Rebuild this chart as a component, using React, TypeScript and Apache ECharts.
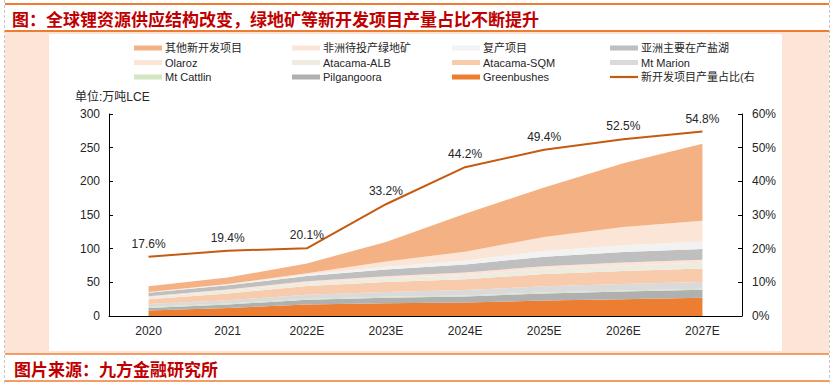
import React, { useEffect, useRef } from "react";
import * as echarts from "echarts";

const years = ["2020", "2021", "2022E", "2023E", "2024E", "2025E", "2026E", "2027E"];
const greenbushes = [8, 12, 17, 19, 20, 23, 25, 27];
const pilgangoora = [4, 5, 7, 8, 9, 10.5, 11.5, 12];
const mtCattlin = [1.5, 1.5, 1.5, 1.5, 1.5, 1.5, 1.5, 1.5];
const mtMarion = [4.5, 5, 6, 7, 8, 9, 9.5, 10];
const atacamaSQM = [7, 10, 13, 15, 16, 18.5, 19.5, 20];
const atacamaALB = [3, 4, 4.5, 5.5, 6.5, 7.5, 8, 8.5];
const olaroz = [1.5, 2, 2.5, 3, 3.5, 4, 4.5, 4.5];
const asiaBrine = [5, 6, 8, 10, 12, 14, 15.5, 16];
const restart = [0.5, 1, 2, 4, 6, 8.5, 10, 11];
const africa = [0.5, 1, 2, 8, 13, 21, 27, 31];
const otherNew = [8.5, 9.5, 14.5, 29, 56.5, 73.5, 95, 114.5];
const newShare = [17.6, 19.4, 20.1, 33.2, 44.2, 49.4, 52.5, 54.8];

const leftTicks = { min: 0, max: 300, interval: 50 };
const rightTicks = { min: 0, max: 60, interval: 10 };

const stackSeries = [
  { name: "Greenbushes", data: greenbushes, color: "#ED7D31" },
  { name: "Pilgangoora", data: pilgangoora, color: "#B0B0B0" },
  { name: "Mt Cattlin", data: mtCattlin, color: "#D3E5C2" },
  { name: "Mt Marion", data: mtMarion, color: "#DADADA" },
  { name: "Atacama-SQM", data: atacamaSQM, color: "#F8CBAD" },
  { name: "Atacama-ALB", data: atacamaALB, color: "#EEECE1" },
  { name: "Olaroz", data: olaroz, color: "#FCE4D6" },
  { name: "亚洲主要在产盐湖", data: asiaBrine, color: "#BFBFBF" },
  { name: "复产项目", data: restart, color: "#F2F2F2" },
  { name: "非洲待投产绿地矿", data: africa, color: "#FBE5D6" },
  { name: "其他新开发项目", data: otherNew, color: "#F4B183" },
];
const lineName = "新开发项目产量占比(右";

const legendCols = [
  ["其他新开发项目", "Olaroz", "Mt Cattlin"],
  ["非洲待投产绿地矿", "Atacama-ALB", "Pilgangoora"],
  ["复产项目", "Atacama-SQM", "Greenbushes"],
  ["亚洲主要在产盐湖", "Mt Marion", lineName],
];
const legendLeft = [134, 292, 452, 610];

const FONT = "'Liberation Sans', 'Noto Sans CJK SC', sans-serif";
const CJK = "'Noto Sans CJK SC', sans-serif";

export default function App() {
  const ref = useRef<HTMLDivElement>(null);
  useEffect(() => {
    document.body.style.margin = "0";
    const chart = echarts.init(ref.current!, null, { renderer: "svg" });
    const series: any[] = stackSeries.map((s) => ({
      name: s.name,
      type: "line",
      stack: "total",
      data: s.data,
      symbol: "none",
      lineStyle: { width: 0 },
      areaStyle: { color: s.color, opacity: 1 },
      itemStyle: { color: s.color },
      color: s.color,
      z: 2,
    }));
    series.push({
      name: lineName,
      type: "line",
      yAxisIndex: 1,
      data: newShare,
      symbol: "circle",
      symbolSize: 0,
      showSymbol: true,
      lineStyle: { width: 2, color: "#C55A11" },
      itemStyle: { color: "#C55A11" },
      color: "#C55A11",
      z: 5,
      label: {
        show: true,
        position: "top",
        distance: 7,
        formatter: (p: any) => Number(p.value).toFixed(1) + "%",
        color: "#262626",
        fontSize: 12,
        fontFamily: FONT,
      },
    });
    const legends = legendCols.map((col, i) => ({
      orient: "vertical",
      left: legendLeft[i],
      top: 41,
      itemWidth: 28,
      itemHeight: 5,
      itemGap: 0.5,
      padding: 0,
      selectedMode: false,
      symbolKeepAspect: true,
      data: col.map((n) =>
        n === lineName ? { name: n, icon: "path://M0,0H280V22H0Z" } : { name: n, icon: "rect" }
      ),
      textStyle: { fontSize: 11, lineHeight: 14, color: "#262626", fontFamily: FONT, padding: [0, 0, 0, -2] },
    }));
    const option: any = {
      animation: false,
      backgroundColor: "#FFFFFF",
      legend: legends,
      grid: { left: 109, right: 93, top: 114, bottom: 69, containLabel: false },
      xAxis: {
        type: "category",
        data: years,
        boundaryGap: true,
        axisLine: { lineStyle: { color: "#000000", width: 1 } },
        axisTick: { inside: true, length: 4, lineStyle: { color: "#000000" } },
        axisLabel: { color: "#262626", fontSize: 12, fontFamily: FONT, margin: 9 },
      },
      yAxis: [
        {
          type: "value",
          ...leftTicks,
          axisLine: { show: true, lineStyle: { color: "#000000", width: 1 } },
          axisTick: { show: true, inside: true, length: 4, lineStyle: { color: "#000000" } },
          axisLabel: { color: "#262626", fontSize: 12, fontFamily: FONT, margin: 9 },
          splitLine: { show: false },
        },
        {
          type: "value",
          position: "right",
          ...rightTicks,
          axisLine: { show: true, lineStyle: { color: "#000000", width: 1 } },
          axisTick: { show: true, inside: true, length: 4, lineStyle: { color: "#000000" } },
          axisLabel: { color: "#262626", fontSize: 12, fontFamily: FONT, margin: 10, formatter: "{value}%" },
          splitLine: { show: false },
        },
      ],
      series,
      graphic: [
        { type: "rect", z: -10, shape: { x: 5, y: 32, width: 824, height: 321 }, style: { fill: "#FCE4D6" }, silent: true },
        { type: "rect", z: -9, shape: { x: 49, y: 34, width: 733, height: 317 }, style: { fill: "#FFFFFF" }, silent: true },
        { type: "line", z: -8, shape: { x1: 5, y1: 4, x2: 829, y2: 4 }, style: { stroke: "#ED7D31", lineWidth: 2 } },
        { type: "line", z: -8, shape: { x1: 5, y1: 31, x2: 829, y2: 31 }, style: { stroke: "#ED7D31", lineWidth: 2 } },
        { type: "line", z: -8, shape: { x1: 5, y1: 354, x2: 829, y2: 354 }, style: { stroke: "#ED7D31", lineWidth: 1.5 } },
        { type: "line", z: -8, shape: { x1: 5, y1: 381, x2: 829, y2: 381 }, style: { stroke: "#ED7D31", lineWidth: 1.5 } },
        { type: "line", z: -8, shape: { x1: 4.5, y1: 0, x2: 4.5, y2: 385 }, style: { stroke: "#C8C8C8", lineWidth: 1, lineDash: [3, 2] } },
        { type: "line", z: -8, shape: { x1: 829.5, y1: 0, x2: 829.5, y2: 385 }, style: { stroke: "#C8C8C8", lineWidth: 1, lineDash: [3, 2] } },
        {
          type: "text", z: 10, x: 12, y: 18,
          style: { text: "图：全球锂资源供应结构改变，绿地矿等新开发项目产量占比不断提升", fill: "#C00000", font: "bold 17px " + CJK, textVerticalAlign: "middle" },
        },
        {
          type: "text", z: 10, x: 14, y: 368,
          style: { text: "图片来源：九方金融研究所", fill: "#C00000", font: "bold 17px " + CJK, textVerticalAlign: "middle" },
        },
        {
          type: "text", z: 10, x: 75, y: 97,
          style: { text: "单位:万吨LCE", fill: "#262626", font: "12px " + FONT, textVerticalAlign: "middle" },
        },
      ],
    };
    chart.setOption(option);
    return () => chart.dispose();
  }, []);
  return <div ref={ref} style={{ width: 835, height: 385 }} />;
}
